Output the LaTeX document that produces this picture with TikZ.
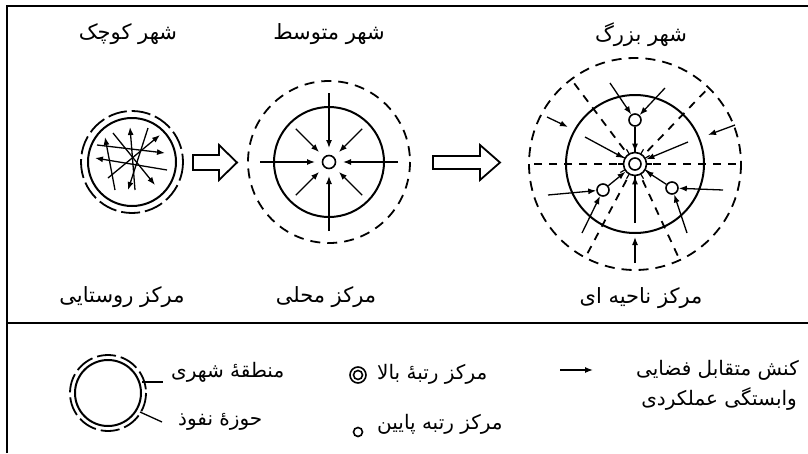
\documentclass[tikz,border=0pt]{standalone}
\usepackage{fontspec}
\usetikzlibrary{positioning,arrows.meta}
\newfontfamily\farsi[Script=Arabic]{DejaVu Sans}
\TeXXeTstate=1
\newcommand{\fa}[1]{\beginR #1\endR}

\begin{document}
\begin{tikzpicture}[x=1pt,y=-1pt,>={Latex[length=8pt,width=6pt]},
    frame/.style={line width=2.4pt},
    city/.style={line width=2pt},
    zone/.style={line width=1.8pt,dash pattern=on 10pt off 7pt},
    ring/.style={line width=1.8pt,dash pattern=on 19pt off 5pt},
    spoke/.style={line width=1.8pt,dash pattern=on 8pt off 7pt},
    flow/.style={->,line width=1.3pt},
    place/.style={circle,draw,line width=1.6pt,inner sep=0pt,minimum size=12pt},
    hub/.style={circle,draw,line width=1.6pt,inner sep=0pt,minimum size=23pt},
    blockarrow/.style={line width=1.8pt,line join=miter},
    label/.style={font=\fontsize{21}{24}\selectfont\farsi,inner sep=1pt},
    key/.style={font=\fontsize{20}{24}\selectfont\farsi,inner sep=1pt}]
  \useasboundingbox (0,0) rectangle (808,453);

  % frame
  \draw[frame] (7,453) -- (7,6) -- (808,6);
  \draw[frame] (7,323) -- (808,323);

  % titles
  \node[label] (small) at (128,34) {\fa{شهر کوچک}};
  \node[label] (medium) at (329,34) {\fa{شهر متوسط}};
  \node[label] (large) at (641,35) {\fa{شهر بزرگ}};
  \node[label] (rural) at (122,297) {\fa{مرکز روستایی}};
  \node[label] (local) at (326,297) {\fa{مرکز محلی}};
  \node[label] (regional) at (641,298) {\fa{مرکز ناحیه ای}};

  % small town
  \begin{scope}[shift={(132,162)}]
    \draw[city] (0,0) circle (44);
    \draw[ring] (0,0) circle (51);
  \end{scope}
  \draw[flow] (115,190) -- (105,137);
  \draw[flow] (135,190) -- (130,127);
  \draw[flow] (108,178) -- (160,135);
  \draw[flow] (97,145) -- (165,153);
  \draw[flow] (167,170) -- (95,158);
  \draw[flow] (113,133) -- (155,185);
  \draw[flow] (148,128) -- (128,190);

  \draw[blockarrow] (193,155) -- (219,155) -- (219,145) -- (237,162.5)
    -- (219,180) -- (219,170) -- (193,170) -- cycle;

  % medium town
  \node[place,minimum size=13pt] (mc) at (329,162) {};
  \begin{scope}[shift={(329,162)}]
    \draw[city] (0,0) circle (55);
    \draw[zone] (0,0) circle (81);
    \foreach \a in {0,90,180,270}
      \draw[flow] (\a:69) -- (\a:14);
    \foreach \a in {45,135,225,315}
      \draw[flow] (\a:47) -- (\a:14);
  \end{scope}

  \draw[blockarrow] (433,156) -- (480,156) -- (480,145) -- (500,162.5)
    -- (480,180) -- (480,169) -- (433,169) -- cycle;

  % large town
  \begin{scope}[shift={(635,164)}]
    \draw[city] (0,0) circle (69);
    \draw[zone] (0,0) circle (106);
    \foreach \a in {0,180,-46,-127,65,118}
      \draw[spoke] (\a:18) -- (\a:106);
    \foreach \a in {0,30,...,330}
      \draw[line width=1.2pt] (\a:12) -- (\a:17);
  \end{scope}
  \node[hub,fill=white] (bc) at (635,164) {};
  \draw[line width=1.6pt] (bc) circle (6);
  \node[place] (top) at (635,120) {};
  \node[place] (left) at (603,190) {};
  \node[place] (right) at (672,188) {};
  \draw[flow] (610,83) -- (top);
  \draw[flow] (665,88) -- (top);
  \draw[flow] (top) -- (bc);
  \draw[flow] (585,137) -- (bc);
  \draw[flow] (688,142) -- (bc);
  \draw[flow] (left) -- (bc);
  \draw[flow] (right) -- (bc);
  \draw[flow] (635,223) -- (bc);
  \draw[flow] (635,263) -- (635,237);
  \draw[flow] (547,117) -- (568,127);
  \draw[flow] (735,125) -- (708,135);
  \draw[flow] (548,195) -- (left);
  \draw[flow] (723,190) -- (right);
  \draw[flow] (582,233) -- (left);
  \draw[flow] (687,233) -- (right);

  % legend
  \begin{scope}[shift={(108,393)}]
    \draw[city] (0,0) circle (33);
    \draw[ring] (0,0) circle (38);
  \end{scope}
  \draw[line width=1.3pt] (142,382) -- (163,382);
  \draw[line width=1.3pt] (140,412) -- (162,422);
  \node[key,anchor=west] (urban) at (170,372) {\fa{منطقهٔ شهری}};
  \node[key,anchor=west] (sphere) at (177,422) {\fa{حوزهٔ نفوذ}};

  \node[circle,draw,line width=1.6pt,inner sep=0pt,minimum size=16pt] (high) at (358,375) {};
  \draw[line width=1.6pt] (high) circle (4.5);
  \node[place,minimum size=9pt] (low) at (358,432) {};
  \node[key,anchor=west] (highlbl) at (376,374) {\fa{مرکز رتبهٔ بالا}};
  \node[key,anchor=west] (lowlbl) at (376,424) {\fa{مرکز رتبه پایین}};

  \coordinate (keyA) at (560,370);
  \coordinate (keyB) at (593,370);
  \draw[flow] (keyA) -- (keyB);
  \node[key,anchor=east] (interact) at (800,370) {\fa{کنش متقابل فضایی}};
  \node[key,anchor=east] (depend) at (798,399) {\fa{وابستگی عملکردی}};
\end{tikzpicture}
\end{document}
